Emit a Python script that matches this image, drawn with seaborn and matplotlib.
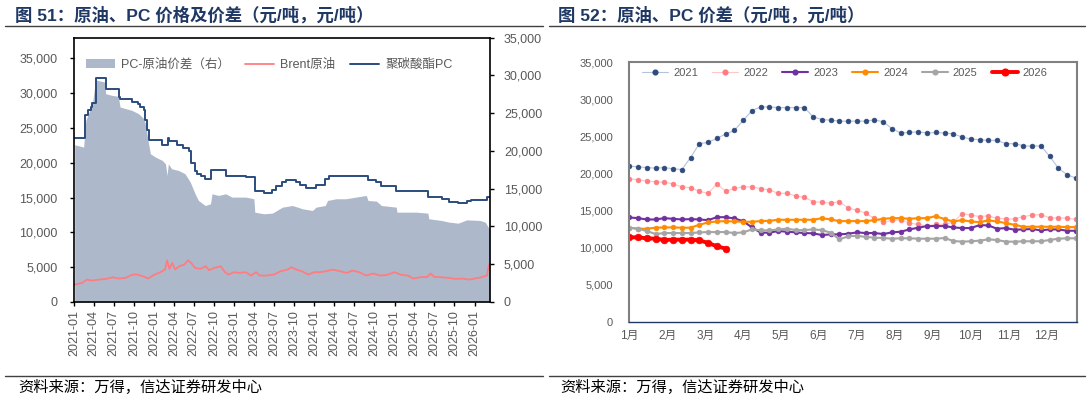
import matplotlib
matplotlib.use("Agg")
import numpy as np
import pandas as pd
import matplotlib.pyplot as plt
import seaborn as sns
from matplotlib.lines import Line2D
from matplotlib.patches import Patch
from matplotlib.ticker import FuncFormatter

# ---------------- data: left chart ----------------
pc_dates = ["2021-01-04", "2021-02-22", "2021-03-08", "2021-03-18", "2021-03-26", "2021-04-10",
            "2021-05-25", "2021-07-24", "2021-07-30", "2021-09-22", "2021-10-20", "2021-10-30",
            "2021-11-15", "2021-11-22", "2021-11-30", "2021-12-10", "2022-02-07", "2022-03-05",
            "2022-03-12", "2022-04-15", "2022-05-15", "2022-06-10", "2022-06-19", "2022-07-05",
            "2022-07-15", "2022-08-05", "2022-08-23", "2022-09-19", "2022-11-26", "2023-02-25",
            "2023-04-05", "2023-05-17", "2023-06-24", "2023-07-12", "2023-08-09", "2023-08-23",
            "2023-10-08", "2023-10-27", "2023-11-24", "2024-01-07", "2024-02-20", "2024-03-06",
            "2024-09-02", "2024-10-10", "2024-11-02", "2025-01-09", "2025-06-02", "2025-08-03",
            "2025-09-06", "2025-10-18", "2025-11-26", "2025-12-14", "2026-02-26", "2026-03-12"]
pc_values = [23500, 26900, 27600, 28000, 28650, 32200,
             30660, 29500, 29100, 28800, 28470, 28000,
             27600, 26200, 24750, 23250, 22600, 23500,
             23080, 22500, 22130, 21650, 20000, 18790,
             18450, 18070, 17740, 19030, 18170, 17980,
             15930, 15690, 16020, 16640, 17210, 17500,
             17210, 16880, 16310, 16880, 17600, 18070,
             17500, 17210, 16640, 15930, 15070, 14830,
             14350, 14160, 14490, 14640, 15070, 15070]

brent_dates = ["2021-01-04", "2021-02-07", "2021-03-01", "2021-03-24", "2021-04-25", "2021-05-27",
               "2021-06-28", "2021-07-21", "2021-08-23", "2021-09-24", "2021-10-18", "2021-11-19",
               "2021-12-05", "2021-12-29", "2022-01-30", "2022-02-20", "2022-03-01", "2022-03-12",
               "2022-03-25", "2022-04-07", "2022-04-26", "2022-05-19", "2022-06-05", "2022-06-21",
               "2022-07-07", "2022-07-31", "2022-08-24", "2022-09-09", "2022-10-03", "2022-11-01",
               "2022-11-20", "2022-12-06", "2022-12-30", "2023-01-23", "2023-02-24", "2023-03-18",
               "2023-04-11", "2023-04-27", "2023-05-29", "2023-07-01", "2023-08-01", "2023-09-02",
               "2023-09-18", "2023-10-11", "2023-11-05", "2023-12-06", "2023-12-30", "2024-01-24",
               "2024-02-24", "2024-03-26", "2024-04-27", "2024-05-29", "2024-06-22", "2024-07-24",
               "2024-08-25", "2024-09-26", "2024-10-28", "2024-11-29", "2024-12-31", "2025-02-01",
               "2025-03-03", "2025-03-27", "2025-04-28", "2025-05-30", "2025-06-15", "2025-07-01",
               "2025-08-02", "2025-09-03", "2025-10-05", "2025-11-06", "2025-12-08", "2026-01-01",
               "2026-02-02", "2026-02-26", "2026-03-04", "2026-03-12"]
brent_values = [2500, 2740, 3220, 3080, 3220, 3320,
                3560, 3370, 3460, 3940, 3940, 3600,
                3370, 3850, 4280, 4660, 5960, 4760,
                5620, 4660, 5140, 5380, 6010, 5530,
                4900, 4760, 5140, 4570, 4900, 5140,
                4280, 3940, 4280, 4180, 4280, 3800,
                4280, 3800, 3800, 3940, 4420, 4660,
                5000, 4660, 4420, 3940, 4280, 4280,
                4420, 4660, 4420, 4180, 4520, 4280,
                3800, 4090, 3800, 3900, 4280, 3900,
                3800, 3370, 3560, 3600, 4090, 3600,
                3560, 3460, 3320, 3370, 3220, 3370,
                3560, 3800, 4900, 5620]

spread_dates = ["2021-01-04", "2021-02-14", "2021-02-24", "2021-03-14", "2021-03-25", "2021-04-07",
                "2021-04-14", "2021-05-22", "2021-05-25", "2021-06-22", "2021-07-22", "2021-07-30",
                "2021-09-22", "2021-10-22", "2021-11-15", "2021-11-22", "2021-12-07", "2021-12-15",
                "2022-01-07", "2022-02-07", "2022-02-22", "2022-03-01", "2022-03-07", "2022-03-22",
                "2022-04-22", "2022-05-22", "2022-06-15", "2022-07-07", "2022-07-22", "2022-08-22",
                "2022-09-15", "2022-09-22", "2022-10-22", "2022-11-23", "2022-12-22", "2023-02-23",
                "2023-04-01", "2023-04-05", "2023-05-16", "2023-06-24", "2023-08-09", "2023-09-24",
                "2023-11-09", "2023-12-24", "2024-01-09", "2024-02-20", "2024-03-02", "2024-04-09",
                "2024-05-24", "2024-07-09", "2024-08-25", "2024-09-02", "2024-10-10", "2024-11-02",
                "2025-01-09", "2025-01-12", "2025-04-09", "2025-06-02", "2025-06-06", "2025-08-03",
                "2025-09-06", "2025-10-18", "2025-11-26", "2026-01-26", "2026-02-18", "2026-03-04",
                "2026-03-12"]
spread_values = [20810, 20500, 24040, 25360, 26020, 28890,
                 29340, 29110, 27570, 27350, 27215, 25800,
                 25360, 24920, 24260, 23590, 20940, 19620,
                 19180, 18740, 18290, 16750, 18290, 17630,
                 17410, 16970, 15860, 14320, 13440, 12770,
                 12990, 14320, 14100, 14320, 13880, 13880,
                 13660, 11890, 11670, 11760, 12550, 12770,
                 12330, 12110, 12550, 12770, 13440, 13660,
                 13660, 13880, 14100, 13440, 13350, 12770,
                 12550, 11890, 11890, 11760, 11010, 10790,
                 10570, 10430, 10870, 10790, 10570, 9910,
                 9600]

left_ticks = pd.date_range("2021-01-01", "2026-01-01", freq="3MS")

# ---------------- data: right chart ----------------
months = ["1月", "2月", "3月", "4月", "5月", "6月", "7月", "8月", "9月", "10月", "11月", "12月"]
y2021 = [20950, 20860, 20770, 20680, 20770, 20590, 20500, 22110, 23980, 24160, 24700, 25280, 25770,
         27110, 28440, 28940, 28940, 28850, 28850, 28850, 28850, 27600, 27240, 27150, 27020, 27020,
         27020, 27020, 27200, 26930, 26030, 25410, 25500, 25590, 25410, 25500, 25410, 25320, 24870,
         24610, 24520, 24430, 24430, 23980, 23980, 23710, 23620, 23710, 22290, 20680, 19790, 19340]
y2022 = [19250, 19120, 18940, 18850, 18760, 18580, 18140, 18050, 17560, 17290, 18540, 17560, 17960,
         18140, 18180, 17910, 17740, 17290, 17290, 16930, 16750, 16170, 16080, 15950, 16170, 15280,
         15010, 14610, 13900, 13360, 13630, 13720, 13270, 13090, 12900, 13090, 13090, 13400, 14560,
         14340, 14160, 14250, 13900, 13850, 13810, 14160, 14340, 14430, 13980, 13980, 13940, 13760]
y2023 = [14030, 13940, 13760, 13760, 13940, 13850, 13760, 13810, 13760, 13670, 14070, 14070, 13900,
         13540, 12700, 11980, 11980, 12200, 12110, 12020, 11930, 11890, 11660, 11750, 11750, 11840,
         12020, 11930, 11930, 11800, 12020, 12110, 12420, 12650, 12870, 12870, 12870, 12690, 12600,
         12600, 13000, 12960, 12510, 12600, 12380, 12420, 12470, 12290, 12420, 12420, 12240, 12240]
y2024 = [12650, 12510, 12510, 12650, 12690, 12690, 12650, 12650, 13050, 13360, 13490, 13540, 13490,
         13450, 13450, 13540, 13580, 13720, 13720, 13720, 13720, 13720, 13940, 13760, 13540, 13540,
         13540, 13540, 13670, 13850, 13940, 13940, 13850, 13940, 13940, 14210, 13810, 13490, 13670,
         13490, 13400, 13630, 13490, 13270, 13050, 12780, 12780, 12780, 12780, 12780, 12730, 12730]
y2025 = [12650, 12510, 12200, 11800, 11930, 11930, 11930, 11930, 12020, 12060, 12060, 12060, 11930,
         12020, 12420, 12290, 12290, 12420, 12510, 12330, 12330, 12420, 12330, 11980, 11080, 11490,
         11570, 11400, 11310, 11260, 11170, 11220, 11220, 11170, 11170, 11170, 11260, 10860, 10770,
         10820, 10900, 11080, 10990, 10770, 10770, 10820, 10820, 10820, 10990, 11170, 11220, 11220]
y2026 = [11350, 11350, 11220, 11170, 10990, 11040, 11040, 11040, 10950, 10590, 10150, 9830]

year_labels = ["2021", "2022", "2023", "2024", "2025", "2026"]
year_series = [y2021, y2022, y2023, y2024, y2025, y2026]
line_colors = ["#B4C3DC", "#FFC6C8", "#7030A0", "#FF8C00", "#A5A5A5", "#FF0000"]
marker_colors = ["#2F4B7C", "#FF7C80", "#7030A0", "#FF8C00", "#A5A5A5", "#FF0000"]
line_widths = [0.8, 0.8, 1.5, 1.5, 1.5, 2.8]
marker_sizes = [3.4, 3.4, 3.4, 3.4, 3.4, 4.8]

# ---------------- style ----------------
sns.set_theme(style="white")
plt.rcParams["font.family"] = ["Liberation Sans", "Noto Sans CJK SC"]
plt.rcParams["axes.unicode_minus"] = False

W, H = 1090, 395
fig = plt.figure(figsize=(W / 100, H / 100), dpi=100)


def rect(x0, y0, x1, y1):
    return [x0 / W, 1 - y1 / H, (x1 - x0) / W, (y1 - y0) / H]


grey = "#595959"
fmt = FuncFormatter(lambda v, _: f"{int(v):,}")

# ---------------- left chart ----------------
ax = fig.add_axes(rect(74, 37.5, 490, 302))
ax2 = ax.twinx()
sp = pd.to_datetime(spread_dates)
ax2.fill_between(sp, 0, spread_values, color="#ADB9CA", lw=0)
ax.set_zorder(ax2.get_zorder() + 1)
ax.patch.set_visible(False)

df_brent = pd.DataFrame({"date": pd.to_datetime(brent_dates), "v": brent_values})
df_pc = pd.DataFrame({"date": pd.to_datetime(pc_dates), "v": pc_values})
sns.lineplot(data=df_brent, x="date", y="v", ax=ax, color="#FF7C80", lw=1.3)
sns.lineplot(data=df_pc, x="date", y="v", ax=ax, color="#2B4C7E", lw=1.4, drawstyle="steps-post")

ax.set_xlim(pd.Timestamp("2021-01-01"), pd.Timestamp("2026-03-12"))
ax.set_ylim(0, 38000)
ax.set_yticks(range(0, 35001, 5000))
ax.yaxis.set_major_formatter(fmt)
ax2.set_ylim(0, 35000)
ax2.set_yticks(range(0, 35001, 5000))
ax2.yaxis.set_major_formatter(fmt)
ax.set_xticks(left_ticks)
ax.set_xticklabels([d.strftime("%Y-%m") for d in left_ticks], rotation=90)
ax.set_xlabel("")
ax.set_ylabel("")
for s in ax.spines.values():
    s.set_color("black")
    s.set_linewidth(1.2)
for s in ax2.spines.values():
    s.set_visible(False)
ax.tick_params(axis="y", left=True, direction="out", length=3, width=1, color="black",
               labelsize=9, labelcolor=grey, pad=9)
ax.tick_params(axis="x", bottom=True, direction="out", length=3, width=1, color="black",
               labelsize=9, labelcolor=grey, pad=3)
ax2.tick_params(axis="y", right=True, direction="out", length=3, width=1, color="black",
                labelsize=9, labelcolor=grey, pad=7)

h_left = [Patch(facecolor="#ADB9CA", edgecolor="none"),
          Line2D([], [], color="#FF7C80", lw=1.3),
          Line2D([], [], color="#2B4C7E", lw=1.4)]
ax.legend(h_left, ["PC-原油价差（右）", "Brent原油", "聚碳酸酯PC"], loc="center left",
          bbox_to_anchor=(0.03, 0.896), ncol=3, frameon=False, fontsize=9,
          handlelength=2.3, handletextpad=0.5, columnspacing=1.2, borderpad=0,
          borderaxespad=0, labelcolor=grey)

# ---------------- right chart ----------------
ax3 = fig.add_axes(rect(628.5, 62, 1077, 321.5))
handles = []
for lab, ys, lc, mc, lw, ms in zip(year_labels, year_series, line_colors, marker_colors,
                                   line_widths, marker_sizes):
    d = pd.DataFrame({"week": np.arange(len(ys)), "v": ys})
    sns.lineplot(data=d, x="week", y="v", ax=ax3, color=lc, lw=lw, marker="o", markersize=ms,
                 markerfacecolor=mc, markeredgecolor=mc, markeredgewidth=0.5)
    handles.append(Line2D([], [], color=lc, lw=lw, marker="o", markersize=ms,
                          markerfacecolor=mc, markeredgecolor=mc))

ax3.set_xlim(-0.09, 51.13)
ax3.set_ylim(0, 35000)
ax3.set_yticks(range(0, 35001, 5000))
ax3.yaxis.set_major_formatter(fmt)
ax3.set_xticks([i * 52 / 12 for i in range(12)])
ax3.set_xticklabels(months)
ax3.set_xlabel("")
ax3.set_ylabel("")
ax3.tick_params(axis="y", left=False, length=0, labelsize=8, labelcolor=grey, pad=11)
ax3.tick_params(axis="x", bottom=False, length=0, labelsize=8.5, labelcolor=grey, pad=6)
for k in ["left", "right", "top"]:
    ax3.spines[k].set_color("#808080")
    ax3.spines[k].set_linewidth(1.5)
ax3.spines["bottom"].set_color("#1F3864")
ax3.spines["bottom"].set_linewidth(1.0)
ax3.legend(handles, year_labels, loc="center left", bbox_to_anchor=(0.03, 0.958), ncol=6,
           frameon=False, fontsize=8, handlelength=2.35, handletextpad=0.45,
           columnspacing=1.26, borderpad=0, borderaxespad=0, labelcolor=grey)

# ---------------- titles, rules, sources ----------------
title_kw = dict(fontsize=12.5, fontweight="bold", color="#1F3864", va="center", ha="left")
fig.text(15 / W, 1 - 15 / H, "图 51：原油、PC 价格及价差（元/吨，元/吨）", **title_kw)
fig.text(558 / W, 1 - 15 / H, "图 52：原油、PC 价差（元/吨，元/吨）", **title_kw)
for x0, x1 in [(5, 543), (549, 1085)]:
    fig.add_artist(Line2D([x0 / W, x1 / W], [1 - 26 / H, 1 - 26 / H], color="#404040", lw=1.0))
    fig.add_artist(Line2D([x0 / W, x1 / W], [1 - 376 / H, 1 - 376 / H], color="#404040", lw=1.0))
src_kw = dict(fontsize=11, color="black", va="center", ha="left", style="italic")
fig.text(18 / W, 1 - 387 / H, "资料来源：万得，信达证券研发中心", **src_kw)
fig.text(560 / W, 1 - 387 / H, "资料来源：万得，信达证券研发中心", **src_kw)

fig.savefig("out.png", dpi=100)
